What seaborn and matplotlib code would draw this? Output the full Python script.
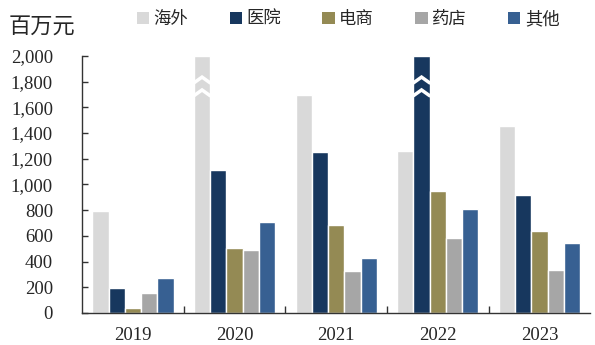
import matplotlib
matplotlib.use("Agg")
import matplotlib.pyplot as plt
import matplotlib.ticker as mticker
import seaborn as sns
import pandas as pd
import numpy as np
from matplotlib.patches import Patch

years = ["2019", "2020", "2021", "2022", "2023"]
channels = ["海外", "医院", "电商", "药店", "其他"]
overseas = [790, 2000, 1695, 1260, 1455]
hospital = [195, 1113, 1253, 2000, 918]
ecommerce = [40, 505, 685, 948, 638]
pharmacy = [158, 490, 328, 584, 335]
other = [272, 708, 428, 809, 545]
# bars drawn broken (value exceeds the axis)
broken = [("海外", "2020"), ("医院", "2022")]

colors = ["#D9D9D9", "#17375E", "#948A54", "#A6A6A6", "#376092"]

series = [overseas, hospital, ecommerce, pharmacy, other]
rows = []
for ch, vals in zip(channels, series):
    for y, v in zip(years, vals):
        rows.append({"year": y, "channel": ch, "value": v})
df = pd.DataFrame(rows)

sns.set_style("white")
plt.rcParams["font.family"] = ["Liberation Serif", "Noto Sans CJK SC"]

fig = plt.figure(figsize=(5.95, 3.45), dpi=100)
ax = fig.add_axes([0.138, 0.093, 0.854, 0.745])

sns.barplot(data=df, x="year", y="value", hue="channel", order=years,
            hue_order=channels, palette=colors, width=0.8, saturation=1,
            ax=ax, legend=False)

ax.set_ylim(0, 2000)
ax.set_xlim(-0.5, len(years) - 0.5)
ax.yaxis.set_major_locator(mticker.MultipleLocator(200))
ax.yaxis.set_major_formatter(mticker.FuncFormatter(lambda v, p: f"{int(v):,}"))
ax.set_xlabel("")
ax.set_ylabel("")

for s in ["top", "right"]:
    ax.spines[s].set_visible(False)
for s in ["left", "bottom"]:
    ax.spines[s].set_color("#333333")
    ax.spines[s].set_linewidth(1.0)

ax.tick_params(axis="y", direction="in", length=4, width=1, color="#333333",
               labelsize=13.5, pad=21, left=True)
ax.tick_params(axis="x", which="major", length=0, labelsize=13.5, pad=10)
ax.set_xticks(np.arange(0.5, len(years) - 0.5, 1), minor=True)
ax.tick_params(axis="x", which="minor", direction="in", length=5, width=1,
               color="#333333", bottom=True)

# chevrons on broken bars
nyears = len(years)
for ch, yr in broken:
    ci = channels.index(ch)
    yi = years.index(yr)
    patch = ax.patches[ci * nyears + yi]
    x0 = patch.get_x()
    w = patch.get_width()
    for ybase in (1790, 1690):
        ax.plot([x0, x0 + w / 2, x0 + w], [ybase, ybase + 45, ybase],
                color="white", lw=2.5, solid_joinstyle="miter", zorder=5,
                clip_on=False)

fig.text(0.015, 0.925, "百万元", fontsize=16, family=["Noto Sans CJK SC"],
         va="center", ha="left")

handles = [Patch(facecolor=c, edgecolor="none") for c in colors]
fig.legend(handles, channels, loc="center", bbox_to_anchor=(0.585, 0.945),
           ncol=5, frameon=False, handlelength=0.7, handleheight=0.7,
           handletextpad=0.25, columnspacing=2.4,
           prop={"family": ["Noto Sans CJK SC"], "size": 12.5})

fig.savefig("out.png", dpi=100)
